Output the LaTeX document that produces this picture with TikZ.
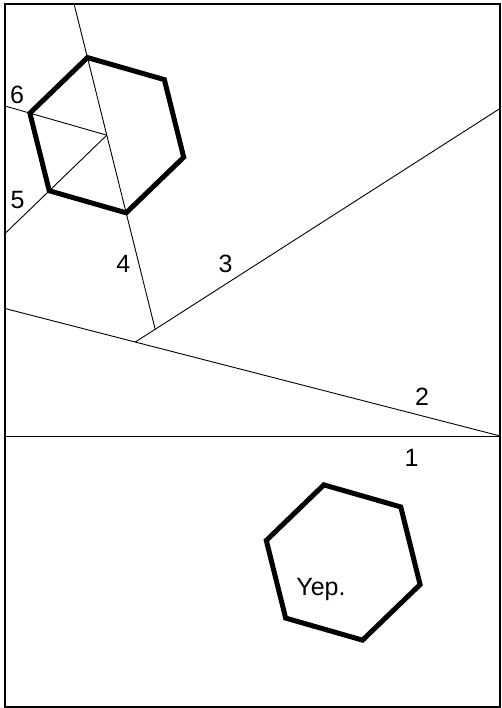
\documentclass[tikz,border=0pt]{standalone}
\usepackage{fontspec}
\setmainfont{Liberation Sans}
\usetikzlibrary{shapes.geometric,calc}

\begin{document}
\begin{tikzpicture}[
  x=1bp,y=-1bp,
  font=\fontsize{25bp}{30bp}\selectfont,
  cut/.style={line width=0.9bp},
  hexa/.style={draw,regular polygon,regular polygon sides=6,minimum size=160bp,
    inner sep=0pt,outer sep=0pt,line width=5bp,shape border rotate=44},
  num/.style={inner sep=0pt}]
  \useasboundingbox (0,0) rectangle (502,708);
  \coordinate (tl) at (5,3.7);
  \coordinate (tr) at (500.3,3.7);
  \coordinate (bl) at (5,707);
  \coordinate (br) at (500.3,707);
  \draw[line width=2bp] (tl) rectangle (br);
  \node[hexa] (hexA) at (106.8,135.2) {};
  \node[hexa] (hexB) at (343.2,562.5) {};
  % cut lines
  \coordinate (c1a) at (5,436);
  \coordinate (c1b) at (500.3,436);
  \coordinate (c2a) at (5,308.5);
  \coordinate (c3a) at ($(c2a)!0.263!(c1b)$);
  \coordinate (c3b) at (500.3,108.3);
  \coordinate (c4a) at (intersection of hexA.104--hexA.284 and tl--tr);
  \coordinate (c4b) at (intersection of hexA.104--hexA.284 and c3a--c3b);
  \coordinate (c5) at (intersection of hexA.center--hexA.224 and tl--bl);
  \coordinate (c6) at (intersection of hexA.center--hexA.164 and tl--bl);
  \foreach \a/\b in {c1a/c1b,c2a/c1b,c3a/c3b,c4a/c4b,hexA.center/c5,hexA.center/c6}
    \draw[cut] (\a)--(\b);
  \node[num] (n1) at (411.5,458.3) {1};
  \node[num] (n2) at (422,397) {2};
  \node[num] (n3) at (225.5,264) {3};
  \node[num] (n4) at (123.3,264) {4};
  \node[num] (n5) at (17.5,199.7) {5};
  \node[num] (n6) at (17,94.7) {6};
  \node[anchor=base] (yep) at (321,595) {Yep.};
\end{tikzpicture}
\end{document}
